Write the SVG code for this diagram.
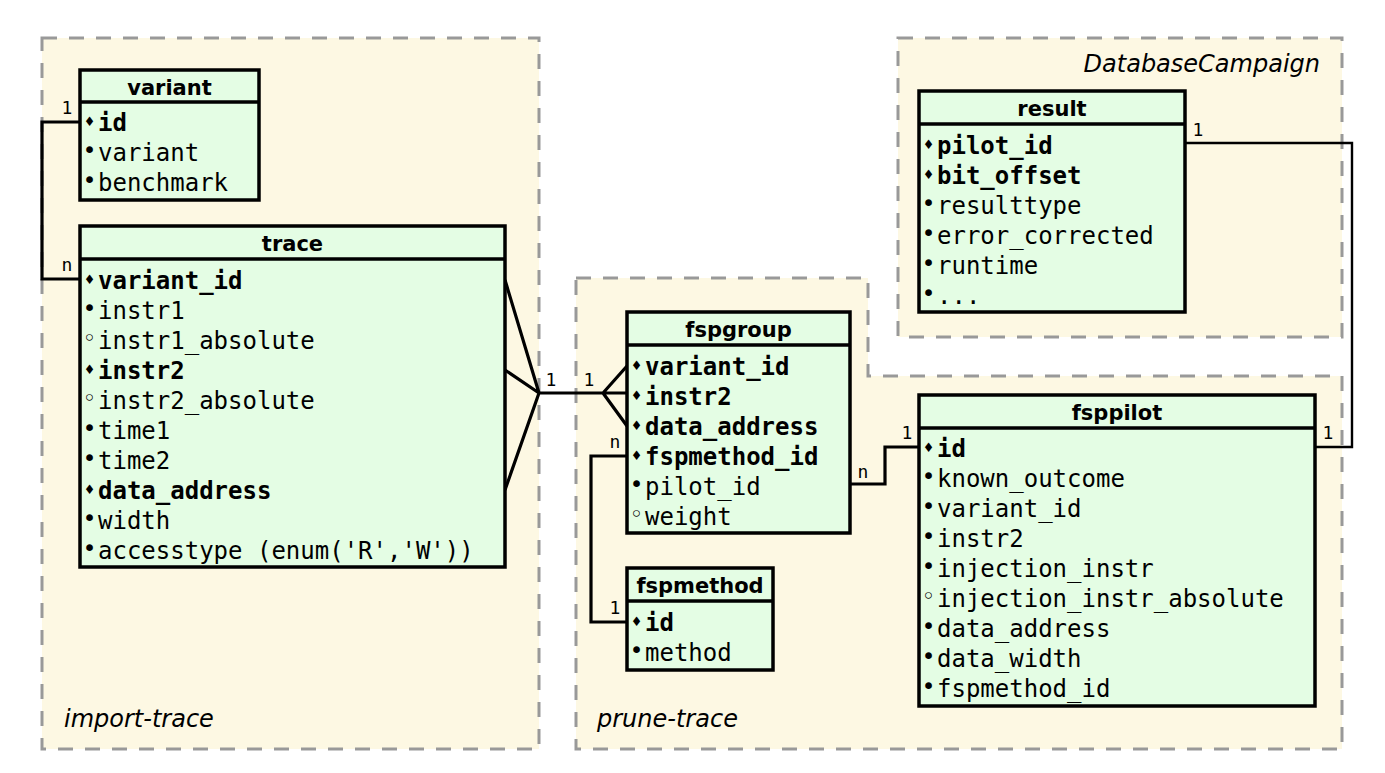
<svg xmlns="http://www.w3.org/2000/svg" width="1385" height="773" viewBox="0 0 1385 773">
<style>
.grp{fill:#fdf8e3;stroke:#999;stroke-width:3;stroke-dasharray:15 12}
.box{fill:#e4fde4;stroke:#000;stroke-width:3.5}
.sep{stroke:#000;stroke-width:3.5}
.hd{font-family:"DejaVu Sans",sans-serif;font-weight:bold;font-size:21px;text-anchor:middle;fill:#000}
.at{font-family:"DejaVu Sans Mono",monospace;font-size:24px;fill:#000}
.pk{font-weight:bold}
.mk{font-family:"DejaVu Sans",sans-serif;font-size:13px;text-anchor:middle;fill:#000}
.bl{font-family:"DejaVu Sans",sans-serif;font-size:23px;text-anchor:middle;fill:#000}
.lbl{font-family:"DejaVu Sans Mono",monospace;font-size:18px;text-anchor:middle;fill:#000}
.gl{font-family:"DejaVu Sans",sans-serif;font-style:italic;font-size:24px;fill:#000}
.c{fill:none;stroke:#000;stroke-width:3.2}
.c2{fill:none;stroke:#000;stroke-width:2.4}
</style>
<g id="groups">
<g id="import-trace">
<rect class="grp" x="42" y="38" width="497" height="711"/>
<text class="gl" x="64" y="727">import-trace</text>
</g>
<g id="prune-trace">
<polygon class="grp" points="576,278 868,278 868,376 1342,376 1342,749 576,749"/>
<text class="gl" x="597" y="727">prune-trace</text>
</g>
<g id="DatabaseCampaign">
<rect class="grp" x="898" y="38" width="444" height="299"/>
<text class="gl" x="1320" y="72" text-anchor="end">DatabaseCampaign</text>
</g>
</g>
<g id="connectors">
<path class="c" d="M80,122 H42 V279 H80"/>
<path class="c" d="M505,280 L539,393 M505,370 L539,393 M505,490 L539,393 M539,393 H603 M627,366 L603,393 L627,426 M603,393 H627"/>
<path class="c" d="M627,456 H591 V622 H627"/>
<path class="c" d="M850,484 H885 V447 H919"/>
<path class="c2" d="M1315,447 H1352 V143 H1185"/>
<text class="lbl" x="67" y="114">1</text>
<text class="lbl" x="67" y="271">n</text>
<text class="lbl" x="551" y="386">1</text>
<text class="lbl" x="589" y="386">1</text>
<text class="lbl" x="615" y="448">n</text>
<text class="lbl" x="615" y="614">1</text>
<text class="lbl" x="863" y="478">n</text>
<text class="lbl" x="907" y="439">1</text>
<text class="lbl" x="1328" y="439">1</text>
<text class="lbl" x="1198" y="136">1</text>
</g>
<g id="variant">
<rect class="box" x="80" y="70" width="179" height="130"/>
<line class="sep" x1="80" y1="102" x2="259" y2="102"/>
<text class="hd" x="169.5" y="95">variant</text>
<text class="mk" x="89.5" y="126">♦</text><text class="at pk" x="98" y="131">id</text>
<text class="bl" x="89.5" y="158">•</text><text class="at" x="98" y="161">variant</text>
<text class="bl" x="89.5" y="188">•</text><text class="at" x="98" y="191">benchmark</text>
</g>
<g id="trace">
<rect class="box" x="80" y="226" width="425" height="341"/>
<line class="sep" x1="80" y1="259" x2="505" y2="259"/>
<text class="hd" x="292.5" y="251">trace</text>
<text class="mk" x="89.5" y="284">♦</text><text class="at pk" x="98" y="289">variant_id</text>
<text class="bl" x="89.5" y="316">•</text><text class="at" x="98" y="319">instr1</text>
<text class="bl" x="89.5" y="346">◦</text><text class="at" x="98" y="349">instr1_absolute</text>
<text class="mk" x="89.5" y="374">♦</text><text class="at pk" x="98" y="379">instr2</text>
<text class="bl" x="89.5" y="406">◦</text><text class="at" x="98" y="409">instr2_absolute</text>
<text class="bl" x="89.5" y="436">•</text><text class="at" x="98" y="439">time1</text>
<text class="bl" x="89.5" y="466">•</text><text class="at" x="98" y="469">time2</text>
<text class="mk" x="89.5" y="494">♦</text><text class="at pk" x="98" y="499">data_address</text>
<text class="bl" x="89.5" y="526">•</text><text class="at" x="98" y="529">width</text>
<text class="bl" x="89.5" y="556">•</text><text class="at" x="98" y="559">accesstype (enum('R','W'))</text>
</g>
<g id="fspgroup">
<rect class="box" x="627" y="312" width="223" height="221"/>
<line class="sep" x1="627" y1="345" x2="850" y2="345"/>
<text class="hd" x="738.5" y="337">fspgroup</text>
<text class="mk" x="636.5" y="370">♦</text><text class="at pk" x="645" y="375">variant_id</text>
<text class="mk" x="636.5" y="400">♦</text><text class="at pk" x="645" y="405">instr2</text>
<text class="mk" x="636.5" y="430">♦</text><text class="at pk" x="645" y="435">data_address</text>
<text class="mk" x="636.5" y="460">♦</text><text class="at pk" x="645" y="465">fspmethod_id</text>
<text class="bl" x="636.5" y="492">•</text><text class="at" x="645" y="495">pilot_id</text>
<text class="bl" x="636.5" y="522">◦</text><text class="at" x="645" y="525">weight</text>
</g>
<g id="fspmethod">
<rect class="box" x="627" y="568" width="146" height="102"/>
<line class="sep" x1="627" y1="601" x2="773" y2="601"/>
<text class="hd" x="700" y="593">fspmethod</text>
<text class="mk" x="636.5" y="626">♦</text><text class="at pk" x="645" y="631">id</text>
<text class="bl" x="636.5" y="658">•</text><text class="at" x="645" y="661">method</text>
</g>
<g id="result">
<rect class="box" x="919" y="91" width="266" height="221"/>
<line class="sep" x1="919" y1="124" x2="1185" y2="124"/>
<text class="hd" x="1052" y="116">result</text>
<text class="mk" x="928.5" y="149">♦</text><text class="at pk" x="937" y="154">pilot_id</text>
<text class="mk" x="928.5" y="179">♦</text><text class="at pk" x="937" y="184">bit_offset</text>
<text class="bl" x="928.5" y="211">•</text><text class="at" x="937" y="214">resulttype</text>
<text class="bl" x="928.5" y="241">•</text><text class="at" x="937" y="244">error_corrected</text>
<text class="bl" x="928.5" y="271">•</text><text class="at" x="937" y="274">runtime</text>
<text class="bl" x="928.5" y="301">•</text><text class="at" x="937" y="304">...</text>
</g>
<g id="fsppilot">
<rect class="box" x="919" y="395" width="396" height="311"/>
<line class="sep" x1="919" y1="428" x2="1315" y2="428"/>
<text class="hd" x="1117" y="420">fsppilot</text>
<text class="mk" x="928.5" y="452">♦</text><text class="at pk" x="937" y="457">id</text>
<text class="bl" x="928.5" y="484">•</text><text class="at" x="937" y="487">known_outcome</text>
<text class="bl" x="928.5" y="514">•</text><text class="at" x="937" y="517">variant_id</text>
<text class="bl" x="928.5" y="544">•</text><text class="at" x="937" y="547">instr2</text>
<text class="bl" x="928.5" y="574">•</text><text class="at" x="937" y="577">injection_instr</text>
<text class="bl" x="928.5" y="604">◦</text><text class="at" x="937" y="607">injection_instr_absolute</text>
<text class="bl" x="928.5" y="634">•</text><text class="at" x="937" y="637">data_address</text>
<text class="bl" x="928.5" y="664">•</text><text class="at" x="937" y="667">data_width</text>
<text class="bl" x="928.5" y="694">•</text><text class="at" x="937" y="697">fspmethod_id</text>
</g>
</svg>
